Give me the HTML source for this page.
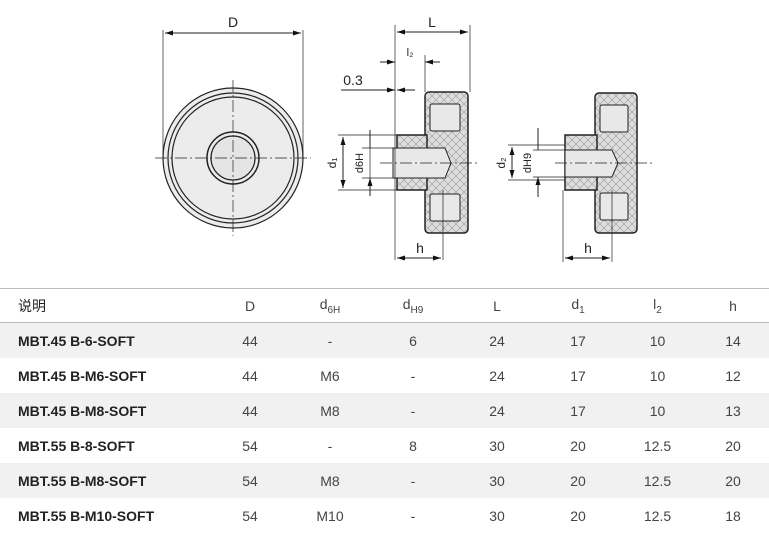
<!DOCTYPE html>
<html><head><meta charset="utf-8"><style>
body{margin:0;width:769px;height:547px;background:#fff;font-family:"Liberation Sans","Noto Sans CJK SC",sans-serif;overflow:hidden;position:relative}
svg{position:absolute;left:0;top:0}
table{position:absolute;left:0;top:288px;width:769px;border-collapse:collapse;font-size:14px;color:#444;table-layout:fixed}
td{height:35px;padding:0;text-align:center}
td:first-child{text-align:left;padding-left:18px;font-weight:bold;color:#222}
tr.h td{border-top:1px solid #bbb;border-bottom:1px solid #bbb;height:33px;font-weight:normal}
tr.g td{background:#f1f1f1}
sub{font-size:10px}
</style></head><body>
<svg width="769" height="290" viewBox="0 0 769 290">
<defs>
<pattern id="x" width="8" height="8" patternUnits="userSpaceOnUse"><rect width="8" height="8" fill="#dedede"/><path d="M0 0L8 8M8 0L0 8" stroke="#999" stroke-width="0.6"/></pattern>
<marker id="a" markerWidth="8" markerHeight="5" refX="8" refY="2.5" orient="auto-start-reverse" markerUnits="userSpaceOnUse"><path d="M0 0L8 2.5L0 5z" fill="#111"/></marker>
</defs>
<g stroke="#222" fill="none" stroke-width="1">
<!-- front view -->
<circle cx="233" cy="158" r="70" fill="#ececec" stroke-width="1.2"/>
<circle cx="233" cy="158" r="67" stroke-width="4" stroke="#ececec" stroke-dasharray="6 7"/>
<circle cx="233" cy="158" r="65" stroke-width="1.2"/>
<circle cx="233" cy="158" r="61" stroke-width="1.2"/>
<circle cx="233" cy="158" r="26" stroke-width="1.5"/>
<circle cx="233" cy="158" r="22" stroke-width="1.2" fill="#e4e4e4"/>
<path d="M155 158H311M233 80V236" stroke-dasharray="12 3 2 3" stroke-width="0.7"/>
<path d="M163 30V158M303 30V158" stroke-width="0.7"/>
<path d="M165 33H301" marker-start="url(#a)" marker-end="url(#a)"/>
<!-- side 1 -->
<rect x="425" y="92" width="43" height="141" rx="4" fill="url(#x)" stroke-width="1.5"/>
<rect x="397" y="135" width="30" height="55" fill="url(#x)" stroke-width="1.5"/>
<rect x="430" y="104" width="30" height="27" rx="2" fill="#e8e8e8"/>
<rect x="430" y="194" width="30" height="27" rx="2" fill="#e8e8e8"/>
<path d="M393 148H445L451 163L445 178H393Z" fill="#e8e8e8"/>
<path d="M380 163H478" stroke-dasharray="12 3 2 3" stroke-width="0.7"/>
<path d="M395 25V260M470 25V92M425 55V92M443 190V260" stroke-width="0.7"/>
<path d="M397 32H468" marker-start="url(#a)" marker-end="url(#a)"/>
<path d="M380 62H395" marker-end="url(#a)"/>
<path d="M440 62H425" marker-end="url(#a)"/>
<path d="M341 90H395" marker-end="url(#a)"/>
<path d="M415 90H397" marker-end="url(#a)"/>
<path d="M397 258H441" marker-start="url(#a)" marker-end="url(#a)"/>
<path d="M338 135H397M338 190H397M362 148H393M362 178H393" stroke-width="0.7"/>
<path d="M343 137V188" marker-start="url(#a)" marker-end="url(#a)"/>
<path d="M370 130V148M370 196V178" marker-end="url(#a)"/>
<path d="M370 148V178" stroke-width="0.7"/>
<!-- side 2 -->
<rect x="595" y="93" width="42" height="140" rx="4" fill="url(#x)" stroke-width="1.5"/>
<rect x="565" y="135" width="32" height="55" fill="url(#x)" stroke-width="1.5"/>
<rect x="600" y="105" width="28" height="27" rx="2" fill="#e8e8e8"/>
<rect x="600" y="193" width="28" height="27" rx="2" fill="#e8e8e8"/>
<path d="M565 150H612L618 163L612 177H565Z" fill="#e8e8e8"/>
<path d="M555 163H655" stroke-dasharray="12 3 2 3" stroke-width="0.7"/>
<path d="M563 190V262M612 190V262" stroke-width="0.7"/>
<path d="M565 258H610" marker-start="url(#a)" marker-end="url(#a)"/>
<path d="M508 145H565M508 180H565M533 150H565M533 177H565" stroke-width="0.7"/>
<path d="M512 147V178" marker-start="url(#a)" marker-end="url(#a)"/>
<path d="M538 128V150M538 197V177" marker-end="url(#a)"/>
</g>
<g font-family="Liberation Sans" font-size="14" fill="#222" text-anchor="middle">
<text x="233" y="27">D</text><text x="432" y="27">L</text>
<text x="410" y="56" font-size="11">l₂</text><text x="353" y="85">0.3</text>
<text x="420" y="253">h</text><text x="588" y="253">h</text>
<text transform="translate(336 163) rotate(-90)" font-size="12">d₁</text>
<text transform="translate(363 163) rotate(-90)" font-size="11">d6H</text>
<text transform="translate(505 163) rotate(-90)" font-size="12">d₂</text>
<text transform="translate(531 163) rotate(-90)" font-size="11">dH9</text>
</g>
</svg>
<table>
<colgroup><col style="width:210px"><col style="width:80px"><col style="width:80px"><col style="width:86px"><col style="width:82px"><col style="width:80px"><col style="width:79px"><col style="width:72px"></colgroup>
<tr class="h"><td>说明</td><td>D</td><td>d<sub>6H</sub></td><td>d<sub>H9</sub></td><td>L</td><td>d<sub>1</sub></td><td>l<sub>2</sub></td><td>h</td></tr>
<tr class="g"><td>MBT.45 B-6-SOFT</td><td>44</td><td>-</td><td>6</td><td>24</td><td>17</td><td>10</td><td>14</td></tr>
<tr><td>MBT.45 B-M6-SOFT</td><td>44</td><td>M6</td><td>-</td><td>24</td><td>17</td><td>10</td><td>12</td></tr>
<tr class="g"><td>MBT.45 B-M8-SOFT</td><td>44</td><td>M8</td><td>-</td><td>24</td><td>17</td><td>10</td><td>13</td></tr>
<tr><td>MBT.55 B-8-SOFT</td><td>54</td><td>-</td><td>8</td><td>30</td><td>20</td><td>12.5</td><td>20</td></tr>
<tr class="g"><td>MBT.55 B-M8-SOFT</td><td>54</td><td>M8</td><td>-</td><td>30</td><td>20</td><td>12.5</td><td>20</td></tr>
<tr><td>MBT.55 B-M10-SOFT</td><td>54</td><td>M10</td><td>-</td><td>30</td><td>20</td><td>12.5</td><td>18</td></tr>
</table>
</body></html>
